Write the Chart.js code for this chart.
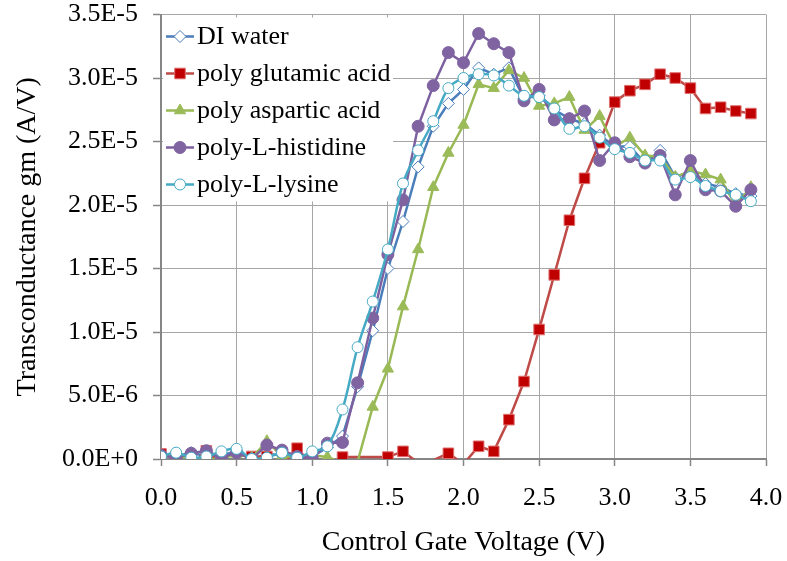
<!DOCTYPE html>
<html>
<head>
<meta charset="utf-8">
<script src="https://cdn.jsdelivr.net/npm/chart.js@4.4.1/dist/chart.umd.min.js"></script>
<style>
  html, body { margin: 0; padding: 0; background: #fff; }
  #wrap { width: 787px; height: 561px; }
</style>
</head>
<body>
<div id="wrap"><canvas id="gmChart" width="787" height="561"></canvas></div>
<script>
// gate voltage (V)
const volts = [0.0, 0.1, 0.2, 0.3, 0.4, 0.5, 0.6, 0.7, 0.8, 0.9,
               1.0, 1.1, 1.2, 1.3, 1.4, 1.5, 1.6, 1.7, 1.8, 1.9,
               2.0, 2.1, 2.2, 2.3, 2.4, 2.5, 2.6, 2.7, 2.8, 2.9,
               3.0, 3.1, 3.2, 3.3, 3.4, 3.5, 3.6, 3.7, 3.8, 3.9];

// transconductance, in units of 1E-6 A/V
const diWater = [0.2, 0.2, 0.5, 0.2, 0.3, 0.6, 0.0, 0.4, 0.3, 0.0,
                 0.2, 0.9, 1.8, 5.7, 10.1, 15.0, 18.7, 23.0, 26.2, 28.0,
                 29.1, 30.8, 30.3, 30.8, 28.4, 28.6, 27.5, 26.8, 26.4, 25.5,
                 24.6, 24.6, 23.3, 24.3, 22.2, 22.6, 21.7, 21.4, 20.9, 20.7];
const glutamic = [0.4, 0.2, -0.5, 0.65, -0.5, -0.6, 0.2, 0.2, -0.5, 0.85,
                  -0.5, -0.6, 0.15, null, null, 0.15, 0.6, -0.3, -0.1, 0.45,
                  -0.4, 1.0, 0.6, 3.1, 6.1, 10.2, 14.5, 18.8, 22.1, 24.9,
                  28.1, 29.0, 29.5, 30.3, 30.0, 29.2, 27.6, 27.7, 27.4, 27.2];
const aspartic = [0.2, 0.2, 0.1, 0.0, 0.0, 0.4, 0.1, 1.4, 0.2, 0.2,
                  0.3, 0.15, -0.3, -0.2, 4.1, 7.1, 12.0, 16.5, 21.4, 24.1,
                  26.3, 29.5, 29.2, 30.6, 30.0, 27.8, 28.0, 28.5, 25.9, 27.0,
                  24.6, 25.3, 23.9, 23.8, 22.2, 22.7, 22.4, 22.0, 20.0, 21.4];
const histidine = [0.3, 0.1, 0.45, 0.65, 0.1, 0.5, 0.0, 1.1, 0.7, 0.2,
                   0.05, 1.25, 1.3, 6.0, 11.1, 16.1, 20.4, 26.2, 29.4, 32.0,
                   31.2, 33.5, 32.7, 32.0, 28.2, 29.1, 26.7, 26.8, 27.4, 23.5,
                   24.9, 23.8, 23.3, 23.9, 20.8, 23.5, 21.2, 21.1, 19.9, 21.2];
const lysine = [0.2, 0.5, 0.1, 0.2, 0.6, 0.8, 0.0, 0.1, 0.5, 0.1,
                0.6, 1.0, 3.9, 8.8, 12.4, 16.5, 21.7, 24.3, 26.6, 29.2,
                30.0, 30.3, 30.2, 29.4, 28.6, 28.5, 27.6, 26.0, 26.2, 25.3,
                24.4, 24.1, 23.5, 23.5, 22.0, 22.2, 21.5, 21.1, 20.8, 20.3];

const seriesNames = ['DI water', 'poly glutamic acid', 'poly aspartic acid', 'poly-L-histidine', 'poly-L-lysine'];

const SERIF = "'Liberation Serif', 'Times New Roman', serif";

const toPoints = (vals) => volts.map((x, i) => ({ x: x, y: vals[i] }));

// Excel does not draw markers that fall below the axis minimum
const hideBelowZero = (r) => (ctx) => (ctx.raw && ctx.raw.y < 0 ? 0 : r);

const makeSet = (label, vals, cfg) => ({
    label: label,
    data: toPoints(vals),
    borderColor: cfg.line,
    borderWidth: 2.5,
    backgroundColor: cfg.fill,
    pointStyle: cfg.style,
    pointRadius: hideBelowZero(cfg.radius),
    legendRadius: cfg.radius,
    pointBackgroundColor: cfg.fill,
    pointBorderColor: cfg.edge,
    pointBorderWidth: 1,
    tension: cfg.tension || 0,
    spanGaps: true,
    order: cfg.order
});

// legend drawn inside the plot, like the Excel original
const insideLegend = {
    id: 'insideLegend',
    afterDatasetsDraw(chart) {
        const { ctx, chartArea } = chart;
        const left = chartArea.left;
        ctx.save();
        ctx.fillStyle = '#fff';
        ctx.fillRect(left + 2, chartArea.top + 3, 230, 184);
        chart.data.datasets.forEach((ds, i) => {
            const y = chartArea.top + 22 + i * 37;
            ctx.strokeStyle = ds.borderColor;
            ctx.lineWidth = ds.borderWidth;
            ctx.setLineDash([]);
            ctx.beginPath();
            ctx.moveTo(left + 5, y);
            ctx.lineTo(left + 33, y);
            ctx.stroke();
            ctx.fillStyle = ds.pointBackgroundColor;
            ctx.strokeStyle = ds.pointBorderColor;
            ctx.lineWidth = ds.pointBorderWidth;
            Chart.helpers.drawPoint(ctx, {
                pointStyle: ds.pointStyle,
                radius: ds.legendRadius,
                borderWidth: ds.pointBorderWidth
            }, left + 19, y);
            ctx.fillStyle = '#000';
            ctx.font = '26px ' + SERIF;
            ctx.textBaseline = 'middle';
            ctx.textAlign = 'left';
            ctx.fillText(ds.label, left + 36, y + 1);
        });
        ctx.restore();
    }
};

const datasets = [
    makeSet(seriesNames[0], diWater, { line: '#4A7EBB', fill: '#FFFFFF', edge: '#4A7EBB', style: 'rectRot', radius: 6, order: 4 }),
    makeSet(seriesNames[1], glutamic, { line: '#BE4B48', fill: '#C00000', edge: '#E07070', style: 'rect', radius: 7.5, order: 3 }),
    makeSet(seriesNames[2], aspartic, { line: '#98B954', fill: '#9BBB59', edge: '#9BBB59', style: 'triangle', radius: 6.5, order: 2 }),
    makeSet(seriesNames[3], histidine, { line: '#7D60A0', fill: '#8064A2', edge: '#8064A2', style: 'circle', radius: 6, order: 1 }),
    makeSet(seriesNames[4], lysine, { line: '#46AAC5', fill: '#FFFFFF', edge: '#46AAC5', style: 'circle', radius: 5.5, tension: 0.35, order: 0 })
];

const gridOpts = {
    color: '#A6A6A6',
    lineWidth: 1,
    borderDash: [5, 3],
    tickBorderDash: [],
    tickColor: '#868686',
    tickWidth: 1.5,
    tickLength: 8
};

new Chart(document.getElementById('gmChart').getContext('2d'), {
    type: 'line',
    data: { datasets: datasets },
    plugins: [insideLegend],
    options: {
        responsive: false,
        animation: false,
        events: [],
        layout: { padding: { left: 0, right: 21, top: 14.5, bottom: 0 } },
        plugins: { legend: { display: false }, tooltip: { enabled: false } },
        scales: {
            x: {
                type: 'linear',
                min: 0,
                max: 4,
                afterFit: (scale) => {
                    scale.height = 102;
                    scale.paddingLeft = 0;
                    scale.paddingRight = 0;
                },
                grid: Object.assign({}, gridOpts, { tickLength: 7 }),
                border: { color: '#868686', width: 2 },
                ticks: {
                    stepSize: 0.5,
                    padding: 18,
                    color: '#000',
                    font: { family: SERIF, size: 26, lineHeight: 1.1 },
                    maxRotation: 0,
                    callback: (v) => v.toFixed(1)
                },
                title: {
                    display: true,
                    text: 'Control Gate Voltage (V)',
                    color: '#000',
                    font: { family: SERIF, size: 28, lineHeight: 1.2 },
                    padding: { top: 0, bottom: 2 }
                }
            },
            y: {
                min: 0,
                max: 35,
                afterFit: (scale) => {
                    scale.width = 161;
                    scale.paddingTop = 0;
                    scale.paddingBottom = 0;
                },
                grid: gridOpts,
                border: { color: '#868686', width: 2 },
                ticks: {
                    stepSize: 5,
                    padding: 15,
                    color: '#000',
                    font: { family: SERIF, size: 26, lineHeight: 1.1 },
                    callback: (v) => (v * 1e-6).toExponential(1).toUpperCase()
                },
                title: {
                    display: true,
                    text: 'Transconductance gm (A/V)',
                    color: '#000',
                    font: { family: SERIF, size: 28, lineHeight: 1.2 },
                    padding: { top: 11, bottom: 0 }
                }
            }
        }
    }
});
</script>
</body>
</html>
